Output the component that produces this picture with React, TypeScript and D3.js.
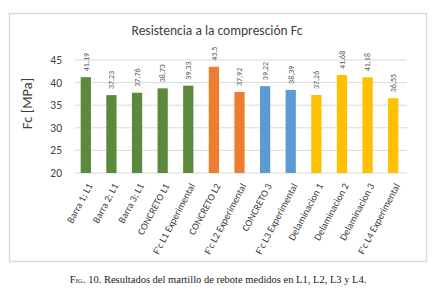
import React from "react";
import * as d3 from "d3";

const categories = [
  "Barra 1; L1",
  "Barra 2; L1",
  "Barra 3; L1",
  "CONCRETO L1",
  "F'c L1 Experimental",
  "CONCRETO L2",
  "F'c L2 Experimental",
  "CONCRETO 3",
  "F'c L3 Experimental",
  "Delaminacion 1",
  "Delaminacion 2",
  "Delaminacion 3",
  "F'c L4 Experimental",
];
const values = [41.19, 37.23, 37.76, 38.73, 39.33, 43.5, 37.92, 39.22, 38.39, 37.26, 41.68, 41.18, 36.55];
const valueLabels = ["41,19", "37,23", "37,76", "38,73", "39,33", "43,5", "37,92", "39,22", "38,39", "37,26", "41,68", "41,18", "36,55"];
const groups = ["L1", "L1", "L1", "L1", "L1", "L2", "L2", "L3", "L3", "L4", "L4", "L4", "L4"];
const groupNames = ["L1", "L2", "L3", "L4"];
const groupColors = ["#5b8a3c", "#ed7d31", "#5b9bd5", "#ffc000"];
const yTicks = [20, 25, 30, 35, 40, 45];

const W = 432;
const H = 296;
const plot = { left: 73, right: 406, top: 60, bottom: 173 };
const FONT = "Carlito, Calibri, 'Liberation Sans', Arial, sans-serif";

export default function App() {
  const x = d3
    .scaleBand<string>()
    .domain(categories)
    .range([plot.left, plot.right])
    .paddingInner(0.6)
    .paddingOuter(0.3);
  const y = d3.scaleLinear().domain([20, 45]).range([plot.bottom, plot.top]);
  const color = d3.scaleOrdinal<string, string>().domain(groupNames).range(groupColors);

  return (
    <svg
      width={W}
      height={H}
      style={{ position: "absolute", left: 0, top: 0, background: "#fff" }}
    >
      <rect x={0} y={0} width={W} height={H} fill="#fff" />
      <rect x={9.5} y={13.5} width={417} height={248} fill="#fff" stroke="#d9d9d9" strokeWidth={1.5} />
      <text
        x={217}
        y={35}
        textAnchor="middle"
        fontFamily={FONT}
        fontSize={13.5}
        fill="#404040"
      >
        Resistencia a la compresción Fc
      </text>
      {yTicks.map((t) => (
        <g key={t}>
          <line x1={plot.left + 2} x2={plot.right + 1} y1={y(t)} y2={y(t)} stroke="#d9d9d9" strokeWidth={1} />
          <text
            x={62}
            y={y(t)}
            dy="0.35em"
            textAnchor="end"
            fontFamily={FONT}
            fontSize={11.5}
            fill="#404040"
          >
            {t}
          </text>
        </g>
      ))}
      <text
        transform={`translate(32, ${(plot.top + plot.bottom) / 2 - 13}) rotate(-90)`}
        textAnchor="middle"
        fontFamily={FONT}
        fontSize={14.5}
        fill="#404040"
      >
        Fc [MPa]
      </text>
      {categories.map((c, i) => {
        const bx = x(c)!;
        const cx = bx + x.bandwidth() / 2;
        const top = y(values[i]);
        return (
          <g key={c}>
            <rect
              x={bx}
              y={top}
              width={x.bandwidth()}
              height={y(20) - top}
              fill={color(groups[i])}
            />
            <text
              transform={`translate(${cx}, ${top - 6}) rotate(-90)`}
              dy="0.35em"
              textAnchor="start"
              fontFamily={FONT}
              fontSize={8}
              fill="#595959"
            >
              {valueLabels[i]}
            </text>
            <text
              transform={`translate(${cx + 4}, ${plot.bottom + 11}) rotate(-62)`}
              dy="0.35em"
              textAnchor="end"
              fontFamily={FONT}
              fontSize={10}
              fill="#404040"
            >
              {c}
            </text>
          </g>
        );
      })}
      <text
        x={218}
        y={283}
        textAnchor="middle"
        fontFamily="'Liberation Serif', 'Times New Roman', serif"
        fontSize={10.5}
        fill="#1a1a1a"
      >
        <tspan style={{ fontVariant: "small-caps" }}>Fig. 10.</tspan> Resultados del martillo de rebote medidos en L1, L2, L3 y L4.
      </text>
    </svg>
  );
}
